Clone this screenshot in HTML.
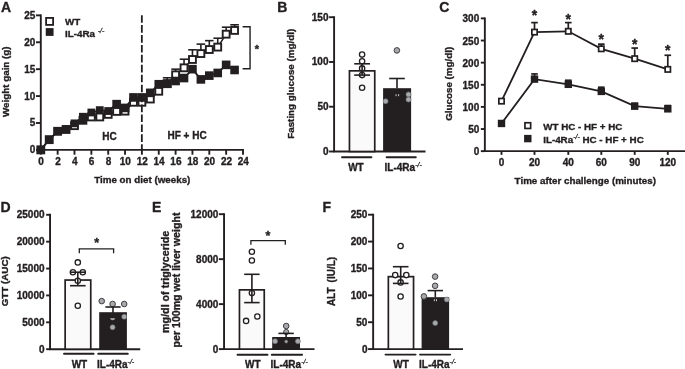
<!DOCTYPE html>
<html lang="en"><head><meta charset="utf-8"><title>Figure</title>
<style>
html,body{margin:0;padding:0;background:#fff;}
body{width:685px;height:369px;overflow:hidden;}
svg{display:block;}
svg text{font-family:"Liberation Sans", Arial, Helvetica, sans-serif;font-weight:bold;fill:#231f20;stroke:#231f20;stroke-width:0.35px;stroke-linejoin:round;}
</style></head><body>
<svg width="685" height="369" viewBox="0 0 685 369">
<rect width="685" height="369" fill="#fff"/>
<text x="1.00" y="12.00" font-size="14" text-anchor="start" >A</text>
<line x1="40.80" y1="14.40" x2="40.80" y2="149.90" stroke="#231f20" stroke-width="1.9" />
<line x1="39.85" y1="149.90" x2="243.95" y2="149.90" stroke="#231f20" stroke-width="1.9" />
<line x1="36.00" y1="149.90" x2="40.80" y2="149.90" stroke="#231f20" stroke-width="1.9" />
<text x="35.40" y="153.40" font-size="10" text-anchor="end" >0</text>
<line x1="36.00" y1="122.99" x2="40.80" y2="122.99" stroke="#231f20" stroke-width="1.9" />
<text x="35.40" y="126.49" font-size="10" text-anchor="end" >5</text>
<line x1="36.00" y1="96.08" x2="40.80" y2="96.08" stroke="#231f20" stroke-width="1.9" />
<text x="35.40" y="99.58" font-size="10" text-anchor="end" >10</text>
<line x1="36.00" y1="69.17" x2="40.80" y2="69.17" stroke="#231f20" stroke-width="1.9" />
<text x="35.40" y="72.67" font-size="10" text-anchor="end" >15</text>
<line x1="36.00" y1="42.26" x2="40.80" y2="42.26" stroke="#231f20" stroke-width="1.9" />
<text x="35.40" y="45.76" font-size="10" text-anchor="end" >20</text>
<line x1="36.00" y1="15.35" x2="40.80" y2="15.35" stroke="#231f20" stroke-width="1.9" />
<text x="35.40" y="18.85" font-size="10" text-anchor="end" >25</text>
<line x1="40.80" y1="149.90" x2="40.80" y2="154.70" stroke="#231f20" stroke-width="1.9" />
<text x="41.10" y="164.80" font-size="10" text-anchor="middle" >0</text>
<line x1="57.65" y1="149.90" x2="57.65" y2="154.70" stroke="#231f20" stroke-width="1.9" />
<text x="57.95" y="164.80" font-size="10" text-anchor="middle" >2</text>
<line x1="74.50" y1="149.90" x2="74.50" y2="154.70" stroke="#231f20" stroke-width="1.9" />
<text x="74.80" y="164.80" font-size="10" text-anchor="middle" >4</text>
<line x1="91.35" y1="149.90" x2="91.35" y2="154.70" stroke="#231f20" stroke-width="1.9" />
<text x="91.65" y="164.80" font-size="10" text-anchor="middle" >6</text>
<line x1="108.20" y1="149.90" x2="108.20" y2="154.70" stroke="#231f20" stroke-width="1.9" />
<text x="108.50" y="164.80" font-size="10" text-anchor="middle" >8</text>
<line x1="125.05" y1="149.90" x2="125.05" y2="154.70" stroke="#231f20" stroke-width="1.9" />
<text x="125.35" y="164.80" font-size="10" text-anchor="middle" >10</text>
<line x1="141.90" y1="149.90" x2="141.90" y2="154.70" stroke="#231f20" stroke-width="1.9" />
<text x="142.20" y="164.80" font-size="10" text-anchor="middle" >12</text>
<line x1="158.75" y1="149.90" x2="158.75" y2="154.70" stroke="#231f20" stroke-width="1.9" />
<text x="159.05" y="164.80" font-size="10" text-anchor="middle" >14</text>
<line x1="175.60" y1="149.90" x2="175.60" y2="154.70" stroke="#231f20" stroke-width="1.9" />
<text x="175.90" y="164.80" font-size="10" text-anchor="middle" >16</text>
<line x1="192.45" y1="149.90" x2="192.45" y2="154.70" stroke="#231f20" stroke-width="1.9" />
<text x="192.75" y="164.80" font-size="10" text-anchor="middle" >18</text>
<line x1="209.30" y1="149.90" x2="209.30" y2="154.70" stroke="#231f20" stroke-width="1.9" />
<text x="209.60" y="164.80" font-size="10" text-anchor="middle" >20</text>
<line x1="226.15" y1="149.90" x2="226.15" y2="154.70" stroke="#231f20" stroke-width="1.9" />
<text x="226.45" y="164.80" font-size="10" text-anchor="middle" >22</text>
<line x1="243.00" y1="149.90" x2="243.00" y2="154.70" stroke="#231f20" stroke-width="1.9" />
<text x="243.30" y="164.80" font-size="10" text-anchor="middle" >24</text>
<text transform="translate(8.70,81.70) rotate(-90)" font-size="9.8" word-spacing="0" text-anchor="middle">Weight gain (g)</text>
<text x="142.30" y="182.50" font-size="9.8" text-anchor="middle" >Time on diet (weeks)</text>
<text x="109.60" y="140.40" font-size="10" text-anchor="middle" >HC</text>
<text x="187.10" y="139.00" font-size="10" text-anchor="middle" >HF + HC</text>
<polyline points="40.80,149.90 49.22,139.67 57.65,131.28 66.08,129.45 74.50,125.68 82.92,120.30 91.35,116.96 99.78,116.96 108.20,114.38 116.62,111.42 125.05,111.15 133.48,102.27 141.90,102.27 150.32,99.04 158.75,91.24 167.18,83.70 175.60,74.82 184.03,67.82 192.45,59.48 200.88,53.56 209.30,49.53 217.73,47.10 226.15,34.19 234.57,30.42" fill="none" stroke="#231f20" stroke-width="1.5"/>
<line x1="167.18" y1="83.70" x2="167.18" y2="77.78" stroke="#231f20" stroke-width="1.6" />
<line x1="162.88" y1="77.78" x2="171.48" y2="77.78" stroke="#231f20" stroke-width="1.6" />
<line x1="175.60" y1="74.82" x2="175.60" y2="69.17" stroke="#231f20" stroke-width="1.6" />
<line x1="171.30" y1="69.17" x2="179.90" y2="69.17" stroke="#231f20" stroke-width="1.6" />
<line x1="184.03" y1="67.82" x2="184.03" y2="59.21" stroke="#231f20" stroke-width="1.6" />
<line x1="179.73" y1="59.21" x2="188.33" y2="59.21" stroke="#231f20" stroke-width="1.6" />
<line x1="192.45" y1="59.48" x2="192.45" y2="49.79" stroke="#231f20" stroke-width="1.6" />
<line x1="188.15" y1="49.79" x2="196.75" y2="49.79" stroke="#231f20" stroke-width="1.6" />
<line x1="200.88" y1="53.56" x2="200.88" y2="44.14" stroke="#231f20" stroke-width="1.6" />
<line x1="196.57" y1="44.14" x2="205.18" y2="44.14" stroke="#231f20" stroke-width="1.6" />
<line x1="209.30" y1="49.53" x2="209.30" y2="40.65" stroke="#231f20" stroke-width="1.6" />
<line x1="205.00" y1="40.65" x2="213.60" y2="40.65" stroke="#231f20" stroke-width="1.6" />
<line x1="217.73" y1="47.10" x2="217.73" y2="38.22" stroke="#231f20" stroke-width="1.6" />
<line x1="213.43" y1="38.22" x2="222.03" y2="38.22" stroke="#231f20" stroke-width="1.6" />
<line x1="226.15" y1="34.19" x2="226.15" y2="27.19" stroke="#231f20" stroke-width="1.6" />
<line x1="221.85" y1="27.19" x2="230.45" y2="27.19" stroke="#231f20" stroke-width="1.6" />
<line x1="234.57" y1="30.42" x2="234.57" y2="24.77" stroke="#231f20" stroke-width="1.6" />
<line x1="230.27" y1="24.77" x2="238.88" y2="24.77" stroke="#231f20" stroke-width="1.6" />
<rect x="37.35" y="146.45" width="6.90" height="6.90" fill="#fff" stroke="#231f20" stroke-width="1.9"/>
<rect x="45.77" y="136.22" width="6.90" height="6.90" fill="#fff" stroke="#231f20" stroke-width="1.9"/>
<rect x="54.20" y="127.83" width="6.90" height="6.90" fill="#fff" stroke="#231f20" stroke-width="1.9"/>
<rect x="62.62" y="126.00" width="6.90" height="6.90" fill="#fff" stroke="#231f20" stroke-width="1.9"/>
<rect x="71.05" y="122.23" width="6.90" height="6.90" fill="#fff" stroke="#231f20" stroke-width="1.9"/>
<rect x="78.52" y="115.90" width="8.80" height="8.80" fill="#231f20"/>
<rect x="87.90" y="113.51" width="6.90" height="6.90" fill="#fff" stroke="#231f20" stroke-width="1.9"/>
<rect x="96.33" y="113.51" width="6.90" height="6.90" fill="#fff" stroke="#231f20" stroke-width="1.9"/>
<rect x="104.75" y="110.93" width="6.90" height="6.90" fill="#fff" stroke="#231f20" stroke-width="1.9"/>
<rect x="113.17" y="107.97" width="6.90" height="6.90" fill="#fff" stroke="#231f20" stroke-width="1.9"/>
<rect x="121.60" y="107.70" width="6.90" height="6.90" fill="#fff" stroke="#231f20" stroke-width="1.9"/>
<rect x="130.03" y="98.82" width="6.90" height="6.90" fill="#fff" stroke="#231f20" stroke-width="1.9"/>
<rect x="138.45" y="98.82" width="6.90" height="6.90" fill="#fff" stroke="#231f20" stroke-width="1.9"/>
<rect x="146.88" y="95.59" width="6.90" height="6.90" fill="#fff" stroke="#231f20" stroke-width="1.9"/>
<rect x="155.30" y="87.79" width="6.90" height="6.90" fill="#fff" stroke="#231f20" stroke-width="1.9"/>
<rect x="163.73" y="80.25" width="6.90" height="6.90" fill="#fff" stroke="#231f20" stroke-width="1.9"/>
<rect x="172.15" y="71.37" width="6.90" height="6.90" fill="#fff" stroke="#231f20" stroke-width="1.9"/>
<rect x="180.58" y="64.37" width="6.90" height="6.90" fill="#fff" stroke="#231f20" stroke-width="1.9"/>
<rect x="189.00" y="56.03" width="6.90" height="6.90" fill="#fff" stroke="#231f20" stroke-width="1.9"/>
<rect x="197.43" y="50.11" width="6.90" height="6.90" fill="#fff" stroke="#231f20" stroke-width="1.9"/>
<rect x="205.85" y="46.08" width="6.90" height="6.90" fill="#fff" stroke="#231f20" stroke-width="1.9"/>
<rect x="214.28" y="43.65" width="6.90" height="6.90" fill="#fff" stroke="#231f20" stroke-width="1.9"/>
<rect x="222.70" y="30.74" width="6.90" height="6.90" fill="#fff" stroke="#231f20" stroke-width="1.9"/>
<rect x="231.12" y="26.97" width="6.90" height="6.90" fill="#fff" stroke="#231f20" stroke-width="1.9"/>
<polyline points="40.80,149.63 49.22,139.67 57.65,131.28 66.08,129.45 74.50,123.37 82.92,116.75 91.35,112.50 99.78,110.13 108.20,111.04 116.62,104.15 125.05,107.92 133.48,97.43 141.90,97.43 150.32,92.85 158.75,84.24 167.18,83.70 175.60,81.01 184.03,78.05 192.45,69.17 200.88,79.40 209.30,75.63 217.73,72.94 226.15,64.86 234.57,69.98" fill="none" stroke="#231f20" stroke-width="1.8"/>
<rect x="36.90" y="145.73" width="7.80" height="7.80" fill="#231f20"/>
<rect x="45.32" y="135.77" width="7.80" height="7.80" fill="#231f20"/>
<rect x="53.75" y="127.38" width="7.80" height="7.80" fill="#231f20"/>
<rect x="62.18" y="125.55" width="7.80" height="7.80" fill="#231f20"/>
<rect x="70.60" y="119.47" width="7.80" height="7.80" fill="#231f20"/>
<rect x="79.02" y="112.85" width="7.80" height="7.80" fill="#231f20"/>
<rect x="87.45" y="108.60" width="7.80" height="7.80" fill="#231f20"/>
<rect x="95.88" y="106.23" width="7.80" height="7.80" fill="#231f20"/>
<rect x="104.30" y="107.14" width="7.80" height="7.80" fill="#231f20"/>
<rect x="112.33" y="99.85" width="8.60" height="8.60" fill="#231f20"/>
<rect x="120.75" y="103.62" width="8.60" height="8.60" fill="#231f20"/>
<rect x="129.18" y="93.13" width="8.60" height="8.60" fill="#231f20"/>
<rect x="137.60" y="93.13" width="8.60" height="8.60" fill="#231f20"/>
<rect x="146.02" y="88.55" width="8.60" height="8.60" fill="#231f20"/>
<rect x="154.45" y="79.94" width="8.60" height="8.60" fill="#231f20"/>
<rect x="162.88" y="79.40" width="8.60" height="8.60" fill="#231f20"/>
<rect x="171.30" y="76.71" width="8.60" height="8.60" fill="#231f20"/>
<rect x="179.73" y="73.75" width="8.60" height="8.60" fill="#231f20"/>
<rect x="188.15" y="64.87" width="8.60" height="8.60" fill="#231f20"/>
<rect x="196.57" y="75.10" width="8.60" height="8.60" fill="#231f20"/>
<rect x="205.00" y="71.33" width="8.60" height="8.60" fill="#231f20"/>
<rect x="213.43" y="68.64" width="8.60" height="8.60" fill="#231f20"/>
<rect x="221.85" y="60.56" width="8.60" height="8.60" fill="#231f20"/>
<rect x="230.27" y="65.68" width="8.60" height="8.60" fill="#231f20"/>
<line x1="141.85" y1="15.15" x2="141.85" y2="149.9" stroke="#231f20" stroke-width="1.8" stroke-dasharray="7.63 2.3"/>
<rect x="46.10" y="17.90" width="7.00" height="7.00" fill="#fff" stroke="#231f20" stroke-width="1.8"/>
<rect x="45.75" y="28.10" width="7.80" height="7.80" fill="#231f20"/>
<text x="65.00" y="25.10" font-size="9.8" text-anchor="start" >WT</text>
<text x="65.00" y="36.60" font-size="9.8" text-anchor="start" >IL-4Ra <tspan font-size="7" dy="-3.9" font-weight="normal" font-style="italic" stroke-width="0.3">-/-</tspan></text>
<polyline points="242.6,26.7 250.05,26.7 250.05,68.7 242.6,68.7" fill="none" stroke="#231f20" stroke-width="1.4"/>
<text x="256.90" y="52.60" font-size="11" text-anchor="middle" >*</text>
<text x="277.20" y="11.60" font-size="14" text-anchor="start" >B</text>
<line x1="334.10" y1="16.26" x2="334.10" y2="151.50" stroke="#231f20" stroke-width="1.9" />
<line x1="333.15" y1="151.50" x2="425.50" y2="151.50" stroke="#231f20" stroke-width="1.9" />
<line x1="329.10" y1="151.50" x2="334.10" y2="151.50" stroke="#231f20" stroke-width="1.9" />
<text x="328.50" y="155.00" font-size="10" text-anchor="end" >0</text>
<line x1="329.10" y1="106.73" x2="334.10" y2="106.73" stroke="#231f20" stroke-width="1.9" />
<text x="328.50" y="110.23" font-size="10" text-anchor="end" >50</text>
<line x1="329.10" y1="61.97" x2="334.10" y2="61.97" stroke="#231f20" stroke-width="1.9" />
<text x="328.50" y="65.47" font-size="10" text-anchor="end" >100</text>
<line x1="329.10" y1="17.21" x2="334.10" y2="17.21" stroke="#231f20" stroke-width="1.9" />
<text x="328.50" y="20.71" font-size="10" text-anchor="end" >150</text>
<text transform="translate(294.40,83.80) rotate(-90)" font-size="9.8" word-spacing="0" text-anchor="middle">Fasting glucose (mg/dl)</text>
<rect x="349.45" y="70.85" width="25.30" height="80.65" fill="#fafafa" stroke="#231f20" stroke-width="1.7"/>
<circle cx="362.10" cy="54.60" r="2.65" fill="#fff" stroke="#231f20" stroke-width="1.3"/>
<circle cx="362.10" cy="61.20" r="2.65" fill="#fff" stroke="#231f20" stroke-width="1.3"/>
<circle cx="362.10" cy="68.40" r="2.65" fill="#fff" stroke="#231f20" stroke-width="1.3"/>
<circle cx="362.10" cy="75.10" r="2.65" fill="#fff" stroke="#231f20" stroke-width="1.3"/>
<circle cx="362.10" cy="87.80" r="2.65" fill="#fff" stroke="#231f20" stroke-width="1.3"/>
<line x1="362.10" y1="63.80" x2="362.10" y2="75.10" stroke="#231f20" stroke-width="1.6" />
<line x1="354.20" y1="63.80" x2="370.00" y2="63.80" stroke="#231f20" stroke-width="1.6" />
<line x1="354.20" y1="75.10" x2="370.00" y2="75.10" stroke="#231f20" stroke-width="1.6" />
<rect x="383.10" y="88.20" width="28.00" height="63.30" fill="#231f20"/>
<circle cx="385.60" cy="101.20" r="2.50" fill="#a7a9ac" stroke="#6d6e71" stroke-width="0.6"/>
<circle cx="408.50" cy="94.40" r="2.50" fill="#a7a9ac" stroke="#6d6e71" stroke-width="0.6"/>
<circle cx="408.50" cy="99.60" r="2.50" fill="#a7a9ac" stroke="#6d6e71" stroke-width="0.6"/>
<rect x="395.6" y="94.2" width="0.9" height="2" fill="#ddd"/><rect x="398.2" y="94.2" width="0.9" height="2" fill="#ddd"/>
<line x1="397.00" y1="78.50" x2="397.00" y2="88.20" stroke="#231f20" stroke-width="1.6" />
<line x1="389.20" y1="78.50" x2="404.80" y2="78.50" stroke="#231f20" stroke-width="1.6" />
<circle cx="396.90" cy="50.40" r="2.80" fill="#a7a9ac" stroke="#414042" stroke-width="1"/>
<line x1="342.00" y1="157.30" x2="371.40" y2="157.30" stroke="#231f20" stroke-width="1.9" stroke-linecap="round"/>
<line x1="386.60" y1="157.30" x2="415.80" y2="157.30" stroke="#231f20" stroke-width="1.9" stroke-linecap="round"/>
<text x="355.90" y="170.70" font-size="10" text-anchor="middle" >WT</text>
<text x="384.60" y="170.70" font-size="10" text-anchor="start" >IL-4Ra<tspan font-size="7" dy="-3.9" font-weight="normal" font-style="italic" stroke-width="0.3">-/-</tspan></text>
<text x="439.20" y="12.20" font-size="14" text-anchor="start" >C</text>
<line x1="484.85" y1="17.45" x2="484.85" y2="151.15" stroke="#231f20" stroke-width="1.9" />
<line x1="483.90" y1="151.15" x2="686.00" y2="151.15" stroke="#231f20" stroke-width="1.9" />
<line x1="480.85" y1="151.15" x2="484.85" y2="151.15" stroke="#231f20" stroke-width="1.9" />
<text x="479.25" y="155.15" font-size="10" text-anchor="end" >0</text>
<line x1="480.85" y1="129.03" x2="484.85" y2="129.03" stroke="#231f20" stroke-width="1.9" />
<text x="479.25" y="133.03" font-size="10" text-anchor="end" >50</text>
<line x1="480.85" y1="106.90" x2="484.85" y2="106.90" stroke="#231f20" stroke-width="1.9" />
<text x="479.25" y="110.90" font-size="10" text-anchor="end" >100</text>
<line x1="480.85" y1="84.78" x2="484.85" y2="84.78" stroke="#231f20" stroke-width="1.9" />
<text x="479.25" y="88.78" font-size="10" text-anchor="end" >150</text>
<line x1="480.85" y1="62.65" x2="484.85" y2="62.65" stroke="#231f20" stroke-width="1.9" />
<text x="479.25" y="66.65" font-size="10" text-anchor="end" >200</text>
<line x1="480.85" y1="40.53" x2="484.85" y2="40.53" stroke="#231f20" stroke-width="1.9" />
<text x="479.25" y="44.53" font-size="10" text-anchor="end" >250</text>
<line x1="480.85" y1="18.40" x2="484.85" y2="18.40" stroke="#231f20" stroke-width="1.9" />
<text x="479.25" y="22.40" font-size="10" text-anchor="end" >300</text>
<line x1="501.50" y1="151.15" x2="501.50" y2="154.85" stroke="#231f20" stroke-width="1.9" />
<text x="501.50" y="165.80" font-size="10" text-anchor="middle" >0</text>
<line x1="534.50" y1="151.15" x2="534.50" y2="154.85" stroke="#231f20" stroke-width="1.9" />
<text x="534.50" y="165.80" font-size="10" text-anchor="middle" >20</text>
<line x1="568.30" y1="151.15" x2="568.30" y2="154.85" stroke="#231f20" stroke-width="1.9" />
<text x="568.30" y="165.80" font-size="10" text-anchor="middle" >40</text>
<line x1="601.30" y1="151.15" x2="601.30" y2="154.85" stroke="#231f20" stroke-width="1.9" />
<text x="601.30" y="165.80" font-size="10" text-anchor="middle" >60</text>
<line x1="634.70" y1="151.15" x2="634.70" y2="154.85" stroke="#231f20" stroke-width="1.9" />
<text x="634.70" y="165.80" font-size="10" text-anchor="middle" >90</text>
<line x1="667.80" y1="151.15" x2="667.80" y2="154.85" stroke="#231f20" stroke-width="1.9" />
<text x="667.80" y="165.80" font-size="10" text-anchor="middle" >120</text>
<text transform="translate(451.90,83.80) rotate(-90)" font-size="9.8" word-spacing="0" text-anchor="middle">Glucose (mg/dl)</text>
<text x="585.30" y="184.10" font-size="9.8" text-anchor="middle" >Time after challenge (minutes)</text>
<polyline points="501.50,101.15 534.50,32.12 568.30,31.32 601.30,48.80 634.70,58.67 667.80,69.38" fill="none" stroke="#231f20" stroke-width="1.8"/>
<polyline points="501.50,123.45 534.50,79.11 568.30,84.33 601.30,91.41 634.70,106.19 667.80,108.85" fill="none" stroke="#231f20" stroke-width="1.8"/>
<line x1="534.50" y1="22.60" x2="534.50" y2="32.12" stroke="#231f20" stroke-width="1.7" />
<line x1="531.20" y1="22.60" x2="537.80" y2="22.60" stroke="#231f20" stroke-width="1.7" />
<line x1="568.30" y1="22.60" x2="568.30" y2="31.32" stroke="#231f20" stroke-width="1.7" />
<line x1="565.00" y1="22.60" x2="571.60" y2="22.60" stroke="#231f20" stroke-width="1.7" />
<line x1="601.30" y1="44.15" x2="601.30" y2="48.80" stroke="#231f20" stroke-width="1.7" />
<line x1="598.00" y1="44.15" x2="604.60" y2="44.15" stroke="#231f20" stroke-width="1.7" />
<line x1="634.70" y1="48.05" x2="634.70" y2="58.67" stroke="#231f20" stroke-width="1.7" />
<line x1="631.40" y1="48.05" x2="638.00" y2="48.05" stroke="#231f20" stroke-width="1.7" />
<line x1="667.80" y1="55.26" x2="667.80" y2="69.38" stroke="#231f20" stroke-width="1.7" />
<line x1="664.50" y1="55.26" x2="671.10" y2="55.26" stroke="#231f20" stroke-width="1.7" />
<line x1="534.50" y1="73.93" x2="534.50" y2="79.11" stroke="#231f20" stroke-width="1.7" />
<line x1="531.20" y1="73.93" x2="537.80" y2="73.93" stroke="#231f20" stroke-width="1.7" />
<line x1="568.30" y1="80.26" x2="568.30" y2="84.33" stroke="#231f20" stroke-width="1.7" />
<line x1="565.00" y1="80.26" x2="571.60" y2="80.26" stroke="#231f20" stroke-width="1.7" />
<line x1="601.30" y1="87.21" x2="601.30" y2="91.41" stroke="#231f20" stroke-width="1.7" />
<line x1="598.00" y1="87.21" x2="604.60" y2="87.21" stroke="#231f20" stroke-width="1.7" />
<line x1="634.70" y1="103.36" x2="634.70" y2="106.19" stroke="#231f20" stroke-width="1.7" />
<line x1="631.40" y1="103.36" x2="638.00" y2="103.36" stroke="#231f20" stroke-width="1.7" />
<line x1="667.80" y1="105.57" x2="667.80" y2="108.85" stroke="#231f20" stroke-width="1.7" />
<line x1="664.50" y1="105.57" x2="671.10" y2="105.57" stroke="#231f20" stroke-width="1.7" />
<rect x="498.85" y="98.50" width="5.30" height="5.30" fill="#fff" stroke="#231f20" stroke-width="1.7"/>
<rect x="531.85" y="29.47" width="5.30" height="5.30" fill="#fff" stroke="#231f20" stroke-width="1.7"/>
<rect x="565.65" y="28.67" width="5.30" height="5.30" fill="#fff" stroke="#231f20" stroke-width="1.7"/>
<rect x="598.65" y="46.15" width="5.30" height="5.30" fill="#fff" stroke="#231f20" stroke-width="1.7"/>
<rect x="632.05" y="56.02" width="5.30" height="5.30" fill="#fff" stroke="#231f20" stroke-width="1.7"/>
<rect x="665.15" y="66.73" width="5.30" height="5.30" fill="#fff" stroke="#231f20" stroke-width="1.7"/>
<rect x="497.80" y="119.75" width="7.40" height="7.40" fill="#231f20"/>
<rect x="530.80" y="75.41" width="7.40" height="7.40" fill="#231f20"/>
<rect x="564.60" y="80.63" width="7.40" height="7.40" fill="#231f20"/>
<rect x="597.60" y="87.71" width="7.40" height="7.40" fill="#231f20"/>
<rect x="631.00" y="102.49" width="7.40" height="7.40" fill="#231f20"/>
<rect x="664.10" y="105.15" width="7.40" height="7.40" fill="#231f20"/>
<text x="534.50" y="20.20" font-size="14" text-anchor="middle" font-weight="normal" stroke-width="0.1">*</text>
<text x="568.30" y="23.50" font-size="14" text-anchor="middle" font-weight="normal" stroke-width="0.1">*</text>
<text x="601.30" y="44.10" font-size="14" text-anchor="middle" font-weight="normal" stroke-width="0.1">*</text>
<text x="634.70" y="49.30" font-size="14" text-anchor="middle" font-weight="normal" stroke-width="0.1">*</text>
<text x="667.80" y="55.20" font-size="14" text-anchor="middle" font-weight="normal" stroke-width="0.1">*</text>
<rect x="524.95" y="122.75" width="5.70" height="5.70" fill="#fff" stroke="#231f20" stroke-width="1.7"/>
<rect x="524.10" y="134.90" width="7.40" height="7.40" fill="#231f20"/>
<text x="543.20" y="129.60" font-size="9.8" text-anchor="start" >WT HC - HF + HC</text>
<text x="543.20" y="143.00" font-size="9.8" text-anchor="start" >IL-4Ra<tspan font-size="7" dy="-3.9" font-weight="normal" font-style="italic" stroke-width="0.3">-/-</tspan><tspan dy="3.9"> HC - HF + HC</tspan></text>
<text x="0.60" y="211.80" font-size="14" text-anchor="start" >D</text>
<line x1="50.05" y1="213.85" x2="50.05" y2="349.20" stroke="#231f20" stroke-width="1.9" />
<line x1="49.10" y1="349.20" x2="140.20" y2="349.20" stroke="#231f20" stroke-width="1.9" />
<line x1="46.15" y1="349.20" x2="50.05" y2="349.20" stroke="#231f20" stroke-width="1.9" />
<text x="44.55" y="352.80" font-size="10" text-anchor="end" >0</text>
<line x1="46.15" y1="322.32" x2="50.05" y2="322.32" stroke="#231f20" stroke-width="1.9" />
<text x="44.55" y="325.92" font-size="10" text-anchor="end" >5000</text>
<line x1="46.15" y1="295.44" x2="50.05" y2="295.44" stroke="#231f20" stroke-width="1.9" />
<text x="44.55" y="299.04" font-size="10" text-anchor="end" >10000</text>
<line x1="46.15" y1="268.56" x2="50.05" y2="268.56" stroke="#231f20" stroke-width="1.9" />
<text x="44.55" y="272.16" font-size="10" text-anchor="end" >15000</text>
<line x1="46.15" y1="241.68" x2="50.05" y2="241.68" stroke="#231f20" stroke-width="1.9" />
<text x="44.55" y="245.28" font-size="10" text-anchor="end" >20000</text>
<line x1="46.15" y1="214.80" x2="50.05" y2="214.80" stroke="#231f20" stroke-width="1.9" />
<text x="44.55" y="218.40" font-size="10" text-anchor="end" >25000</text>
<text transform="translate(8.30,281.30) rotate(-90)" font-size="9.8" word-spacing="0" text-anchor="middle">GTT (AUC)</text>
<rect x="65.15" y="280.05" width="25.60" height="69.15" fill="#fafafa" stroke="#231f20" stroke-width="1.7"/>
<circle cx="77.80" cy="262.40" r="2.65" fill="#fff" stroke="#231f20" stroke-width="1.3"/>
<circle cx="72.90" cy="272.20" r="2.65" fill="#fff" stroke="#231f20" stroke-width="1.3"/>
<circle cx="82.80" cy="272.20" r="2.65" fill="#fff" stroke="#231f20" stroke-width="1.3"/>
<circle cx="77.80" cy="280.80" r="2.65" fill="#fff" stroke="#231f20" stroke-width="1.3"/>
<circle cx="77.80" cy="305.70" r="2.65" fill="#fff" stroke="#231f20" stroke-width="1.3"/>
<line x1="77.80" y1="272.20" x2="77.80" y2="285.70" stroke="#231f20" stroke-width="1.6" />
<line x1="70.00" y1="272.20" x2="85.60" y2="272.20" stroke="#231f20" stroke-width="1.6" />
<line x1="70.00" y1="285.70" x2="85.60" y2="285.70" stroke="#231f20" stroke-width="1.6" />
<rect x="99.20" y="312.20" width="27.70" height="37.00" fill="#231f20"/>
<circle cx="124.20" cy="316.70" r="2.50" fill="#a7a9ac" stroke="#6d6e71" stroke-width="0.6"/>
<circle cx="112.60" cy="327.30" r="2.50" fill="#a7a9ac" stroke="#6d6e71" stroke-width="0.6"/>
<path d="M110.1,317.6 h5 a2.5,2.7 0 0 1 -5,0 z" fill="#a7a9ac"/>
<circle cx="101.70" cy="301.10" r="2.80" fill="#a7a9ac" stroke="#414042" stroke-width="1"/>
<circle cx="112.60" cy="304.00" r="2.80" fill="#a7a9ac" stroke="#414042" stroke-width="1"/>
<circle cx="124.20" cy="304.00" r="2.80" fill="#a7a9ac" stroke="#414042" stroke-width="1"/>
<line x1="113.00" y1="307.00" x2="113.00" y2="317.40" stroke="#231f20" stroke-width="1.6" />
<line x1="105.40" y1="307.00" x2="120.60" y2="307.00" stroke="#231f20" stroke-width="1.6" />
<line x1="105.40" y1="317.40" x2="120.60" y2="317.40" stroke="#231f20" stroke-width="1.6" />
<polyline points="79.3,253.2 79.3,248.9 113.6,248.9 113.6,253.2" fill="none" stroke="#231f20" stroke-width="1.3"/>
<text x="96.60" y="247.30" font-size="12.5" text-anchor="middle" >*</text>
<line x1="64.00" y1="353.70" x2="93.60" y2="353.70" stroke="#231f20" stroke-width="1.9" stroke-linecap="round"/>
<line x1="98.20" y1="353.70" x2="127.80" y2="353.70" stroke="#231f20" stroke-width="1.9" stroke-linecap="round"/>
<text x="79.40" y="368.00" font-size="10" text-anchor="middle" >WT</text>
<text x="97.00" y="368.00" font-size="10" text-anchor="start" >IL-4Ra<tspan font-size="7" dy="-3.9" font-weight="normal" font-style="italic" stroke-width="0.3">-/-</tspan></text>
<text x="152.00" y="211.80" font-size="14" text-anchor="start" >E</text>
<line x1="224.05" y1="213.24" x2="224.05" y2="349.10" stroke="#231f20" stroke-width="1.9" />
<line x1="223.10" y1="349.10" x2="314.50" y2="349.10" stroke="#231f20" stroke-width="1.9" />
<line x1="218.85" y1="349.10" x2="224.05" y2="349.10" stroke="#231f20" stroke-width="1.9" />
<text x="218.35" y="352.70" font-size="10" text-anchor="end" >0</text>
<line x1="218.85" y1="304.13" x2="224.05" y2="304.13" stroke="#231f20" stroke-width="1.9" />
<text x="218.35" y="307.73" font-size="10" text-anchor="end" >4000</text>
<line x1="218.85" y1="259.16" x2="224.05" y2="259.16" stroke="#231f20" stroke-width="1.9" />
<text x="218.35" y="262.76" font-size="10" text-anchor="end" >8000</text>
<line x1="218.85" y1="214.19" x2="224.05" y2="214.19" stroke="#231f20" stroke-width="1.9" />
<text x="218.35" y="217.79" font-size="10" text-anchor="end" >12000</text>
<text transform="translate(168.80,281.80) rotate(-90)" font-size="10.7" word-spacing="0" text-anchor="middle">mg/dl of triglyceride</text>
<text transform="translate(180.40,280.00) rotate(-90)" font-size="10.6" word-spacing="0" text-anchor="middle">per 100mg wet liver weight</text>
<rect x="239.45" y="289.85" width="24.80" height="59.25" fill="#fafafa" stroke="#231f20" stroke-width="1.7"/>
<circle cx="251.90" cy="251.80" r="2.65" fill="#fff" stroke="#231f20" stroke-width="1.3"/>
<circle cx="251.90" cy="260.50" r="2.65" fill="#fff" stroke="#231f20" stroke-width="1.3"/>
<circle cx="251.90" cy="293.10" r="2.65" fill="#fff" stroke="#231f20" stroke-width="1.3"/>
<circle cx="257.30" cy="316.50" r="2.65" fill="#fff" stroke="#231f20" stroke-width="1.3"/>
<circle cx="246.10" cy="320.90" r="2.65" fill="#fff" stroke="#231f20" stroke-width="1.3"/>
<line x1="251.90" y1="274.30" x2="251.90" y2="302.60" stroke="#231f20" stroke-width="1.6" />
<line x1="244.20" y1="274.30" x2="259.60" y2="274.30" stroke="#231f20" stroke-width="1.6" />
<line x1="244.20" y1="302.60" x2="259.60" y2="302.60" stroke="#231f20" stroke-width="1.6" />
<rect x="272.20" y="337.00" width="27.80" height="12.10" fill="#231f20"/>
<circle cx="275.10" cy="341.20" r="2.50" fill="#a7a9ac" stroke="#6d6e71" stroke-width="0.6"/>
<circle cx="297.90" cy="341.20" r="2.50" fill="#a7a9ac" stroke="#6d6e71" stroke-width="0.6"/>
<circle cx="286.20" cy="341.60" r="1.50" fill="#a7a9ac" stroke="#6d6e71" stroke-width="0.6"/>
<circle cx="286.20" cy="326.00" r="2.80" fill="#a7a9ac" stroke="#414042" stroke-width="1"/>
<circle cx="286.20" cy="332.00" r="2.60" fill="#a7a9ac" stroke="#414042" stroke-width="1"/>
<line x1="286.10" y1="333.40" x2="286.10" y2="337.00" stroke="#231f20" stroke-width="1.6" />
<line x1="278.40" y1="333.40" x2="293.80" y2="333.40" stroke="#231f20" stroke-width="1.6" />
<polyline points="250.9,244.8 250.9,240.7 285.3,240.7 285.3,244.8" fill="none" stroke="#231f20" stroke-width="1.3"/>
<text x="267.90" y="240.30" font-size="12.5" text-anchor="middle" >*</text>
<line x1="237.50" y1="354.70" x2="267.50" y2="354.70" stroke="#231f20" stroke-width="1.9" stroke-linecap="round"/>
<line x1="271.80" y1="354.70" x2="302.10" y2="354.70" stroke="#231f20" stroke-width="1.9" stroke-linecap="round"/>
<text x="252.80" y="367.90" font-size="10" text-anchor="middle" >WT</text>
<text x="270.60" y="367.90" font-size="10" text-anchor="start" >IL-4Ra<tspan font-size="7" dy="-3.9" font-weight="normal" font-style="italic" stroke-width="0.3">-/-</tspan></text>
<text x="322.50" y="211.80" font-size="14" text-anchor="start" >F</text>
<line x1="373.15" y1="213.75" x2="373.15" y2="349.10" stroke="#231f20" stroke-width="1.9" />
<line x1="372.20" y1="349.10" x2="463.00" y2="349.10" stroke="#231f20" stroke-width="1.9" />
<line x1="368.05" y1="349.10" x2="373.15" y2="349.10" stroke="#231f20" stroke-width="1.9" />
<text x="367.45" y="352.60" font-size="10" text-anchor="end" >0</text>
<line x1="368.05" y1="322.22" x2="373.15" y2="322.22" stroke="#231f20" stroke-width="1.9" />
<text x="367.45" y="325.72" font-size="10" text-anchor="end" >50</text>
<line x1="368.05" y1="295.34" x2="373.15" y2="295.34" stroke="#231f20" stroke-width="1.9" />
<text x="367.45" y="298.84" font-size="10" text-anchor="end" >100</text>
<line x1="368.05" y1="268.46" x2="373.15" y2="268.46" stroke="#231f20" stroke-width="1.9" />
<text x="367.45" y="271.96" font-size="10" text-anchor="end" >150</text>
<line x1="368.05" y1="241.58" x2="373.15" y2="241.58" stroke="#231f20" stroke-width="1.9" />
<text x="367.45" y="245.08" font-size="10" text-anchor="end" >200</text>
<line x1="368.05" y1="214.70" x2="373.15" y2="214.70" stroke="#231f20" stroke-width="1.9" />
<text x="367.45" y="218.20" font-size="10" text-anchor="end" >250</text>
<text transform="translate(335.00,281.50) rotate(-90)" font-size="10" word-spacing="2.2" text-anchor="middle">ALT (IU/L)</text>
<rect x="388.35" y="276.65" width="25.20" height="72.45" fill="#fafafa" stroke="#231f20" stroke-width="1.7"/>
<circle cx="400.60" cy="246.00" r="2.65" fill="#fff" stroke="#231f20" stroke-width="1.3"/>
<circle cx="395.20" cy="275.10" r="2.65" fill="#fff" stroke="#231f20" stroke-width="1.3"/>
<circle cx="406.30" cy="275.10" r="2.65" fill="#fff" stroke="#231f20" stroke-width="1.3"/>
<circle cx="400.60" cy="282.40" r="2.65" fill="#fff" stroke="#231f20" stroke-width="1.3"/>
<circle cx="400.60" cy="296.50" r="2.65" fill="#fff" stroke="#231f20" stroke-width="1.3"/>
<line x1="400.70" y1="266.70" x2="400.70" y2="283.40" stroke="#231f20" stroke-width="1.6" />
<line x1="392.90" y1="266.70" x2="408.50" y2="266.70" stroke="#231f20" stroke-width="1.6" />
<line x1="392.90" y1="283.40" x2="408.50" y2="283.40" stroke="#231f20" stroke-width="1.6" />
<rect x="421.60" y="297.20" width="27.50" height="51.90" fill="#231f20"/>
<circle cx="446.80" cy="299.50" r="2.50" fill="#a7a9ac" stroke="#6d6e71" stroke-width="0.6"/>
<circle cx="435.20" cy="323.10" r="2.50" fill="#a7a9ac" stroke="#6d6e71" stroke-width="0.6"/>
<rect x="433.9" y="299.2" width="0.9" height="2" fill="#ddd"/><rect x="436.1" y="299.2" width="0.9" height="2" fill="#ddd"/>
<circle cx="435.10" cy="276.60" r="2.80" fill="#a7a9ac" stroke="#414042" stroke-width="1"/>
<circle cx="435.10" cy="285.80" r="2.80" fill="#a7a9ac" stroke="#414042" stroke-width="1"/>
<circle cx="423.90" cy="296.40" r="2.80" fill="#a7a9ac" stroke="#414042" stroke-width="1"/>
<line x1="435.30" y1="290.60" x2="435.30" y2="297.20" stroke="#231f20" stroke-width="1.6" />
<line x1="427.60" y1="290.60" x2="443.00" y2="290.60" stroke="#231f20" stroke-width="1.6" />
<line x1="385.50" y1="354.60" x2="415.60" y2="354.60" stroke="#231f20" stroke-width="1.9" stroke-linecap="round"/>
<line x1="420.00" y1="354.60" x2="450.20" y2="354.60" stroke="#231f20" stroke-width="1.9" stroke-linecap="round"/>
<text x="401.00" y="367.90" font-size="10" text-anchor="middle" >WT</text>
<text x="419.00" y="367.90" font-size="10" text-anchor="start" >IL-4Ra<tspan font-size="7" dy="-3.9" font-weight="normal" font-style="italic" stroke-width="0.3">-/-</tspan></text>
</svg>
</body></html>
